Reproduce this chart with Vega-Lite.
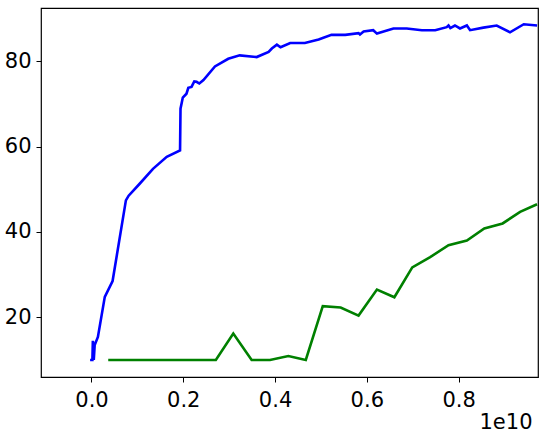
{
  "$schema": "https://vega.github.io/schema/vega-lite/v6.json",
  "width": 497,
  "height": 369,
  "autosize": {"type": "none"},
  "padding": {"left": 41, "top": 8, "right": 7, "bottom": 59},
  "background": "white",
  "config": {
    "view": {"stroke": "black", "strokeWidth": 1.2},
    "axis": {
      "grid": false,
      "domain": false,
      "tickColor": "black",
      "tickSize": 5,
      "tickWidth": 1,
      "labelFont": "DejaVu Sans",
      "labelFontSize": 21,
      "labelColor": "black"
    }
  },
  "datasets": {
    "blue": [
      {"x": -0.03e9, "y": 10.0}, {"x": 0.02e9, "y": 10.0}, {"x": 0.03e9, "y": 14.5}, {"x": 0.05e9, "y": 10.0},
      {"x": 0.07e9, "y": 13.5}, {"x": 0.14e9, "y": 15.4}, {"x": 0.29e9, "y": 24.8}, {"x": 0.46e9, "y": 28.5},
      {"x": 0.75e9, "y": 47.4}, {"x": 0.81e9, "y": 48.5}, {"x": 1.05e9, "y": 51.3}, {"x": 1.34e9, "y": 54.8},
      {"x": 1.64e9, "y": 57.6}, {"x": 1.93e9, "y": 59.1}, {"x": 1.94e9, "y": 68.9}, {"x": 1.99e9, "y": 71.5},
      {"x": 2.07e9, "y": 72.4}, {"x": 2.11e9, "y": 73.8}, {"x": 2.18e9, "y": 74.0}, {"x": 2.24e9, "y": 75.3},
      {"x": 2.29e9, "y": 75.2}, {"x": 2.35e9, "y": 74.8}, {"x": 2.44e9, "y": 75.6}, {"x": 2.69e9, "y": 78.8},
      {"x": 2.98e9, "y": 80.6}, {"x": 3.23e9, "y": 81.4}, {"x": 3.60e9, "y": 81.0}, {"x": 3.86e9, "y": 82.2},
      {"x": 3.93e9, "y": 83.0}, {"x": 4.04e9, "y": 83.9}, {"x": 4.12e9, "y": 83.3}, {"x": 4.33e9, "y": 84.3},
      {"x": 4.65e9, "y": 84.3}, {"x": 4.95e9, "y": 85.1}, {"x": 5.23e9, "y": 86.2}, {"x": 5.53e9, "y": 86.2},
      {"x": 5.82e9, "y": 86.6}, {"x": 5.85e9, "y": 86.3}, {"x": 5.93e9, "y": 87.0}, {"x": 6.14e9, "y": 87.3},
      {"x": 6.22e9, "y": 86.5}, {"x": 6.58e9, "y": 87.7}, {"x": 6.87e9, "y": 87.7}, {"x": 7.20e9, "y": 87.3},
      {"x": 7.49e9, "y": 87.3}, {"x": 7.74e9, "y": 88.0}, {"x": 7.78e9, "y": 88.4}, {"x": 7.82e9, "y": 87.8},
      {"x": 7.92e9, "y": 88.4}, {"x": 8.03e9, "y": 87.7}, {"x": 8.18e9, "y": 88.4}, {"x": 8.25e9, "y": 87.3},
      {"x": 8.54e9, "y": 87.9}, {"x": 8.83e9, "y": 88.4}, {"x": 9.12e9, "y": 86.8}, {"x": 9.42e9, "y": 88.7},
      {"x": 9.71e9, "y": 88.4}
    ],
    "green": [
      {"x": 0.365e9, "y": 10.0}, {"x": 0.75e9, "y": 10.0}, {"x": 1.14e9, "y": 10.0}, {"x": 1.52e9, "y": 10.0},
      {"x": 1.91e9, "y": 10.0}, {"x": 2.30e9, "y": 10.0}, {"x": 2.71e9, "y": 10.0}, {"x": 3.09e9, "y": 16.2},
      {"x": 3.49e9, "y": 10.0}, {"x": 3.89e9, "y": 10.0}, {"x": 4.29e9, "y": 10.9}, {"x": 4.67e9, "y": 10.0},
      {"x": 5.04e9, "y": 22.6}, {"x": 5.43e9, "y": 22.3}, {"x": 5.82e9, "y": 20.4}, {"x": 6.22e9, "y": 26.5},
      {"x": 6.60e9, "y": 24.7}, {"x": 6.99e9, "y": 31.7}, {"x": 7.38e9, "y": 34.1}, {"x": 7.78e9, "y": 36.9},
      {"x": 8.18e9, "y": 38.0}, {"x": 8.56e9, "y": 40.8}, {"x": 8.96e9, "y": 42.0}, {"x": 9.34e9, "y": 44.7},
      {"x": 9.71e9, "y": 46.5}
    ]
  },
  "encoding": {
    "x": {
      "field": "x", "type": "quantitative",
      "scale": {"domain": [-1.1e9, 9.73e9], "nice": false, "zero": false},
      "axis": {
        "values": [0, 2e9, 4e9, 6e9, 8e9],
        "labelExpr": "format(datum.value / 1e10, '.1f')",
        "labelPadding": 7,
        "title": "1e10",
        "titleFont": "DejaVu Sans",
        "titleFontSize": 21,
        "titleFontWeight": "normal",
        "titleColor": "black",
        "titleAnchor": "end",
        "titleAlign": "right",
        "titleBaseline": "top",
        "titleX": 491,
        "titleY": 34
      }
    },
    "y": {
      "field": "y", "type": "quantitative",
      "scale": {"domain": [6.0, 92.5], "nice": false, "zero": false},
      "axis": {"values": [20, 40, 60, 80], "title": null, "labelPadding": 5}
    }
  },
  "layer": [
    {"data": {"name": "blue"}, "mark": {"type": "line", "color": "#0000ff", "strokeWidth": 2.6, "clip": true}},
    {"data": {"name": "green"}, "mark": {"type": "line", "color": "#008000", "strokeWidth": 2.6, "clip": true}}
  ]
}
